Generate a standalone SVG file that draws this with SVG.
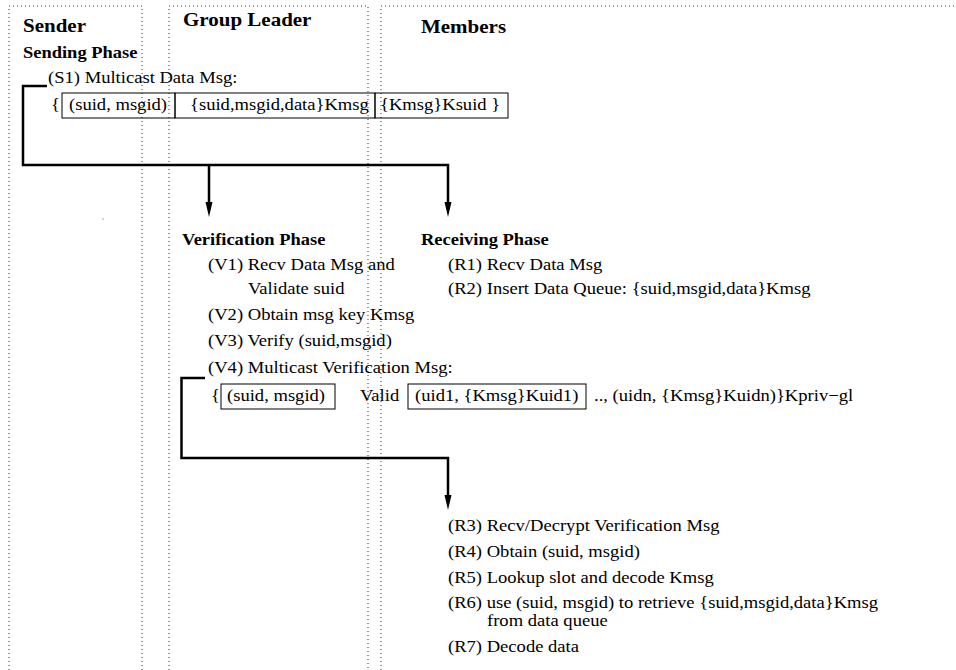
<svg xmlns="http://www.w3.org/2000/svg" width="956" height="670" viewBox="0 0 956 670">
<defs>
<style>
text{font-family:"Liberation Serif","Times New Roman",serif;fill:#000}
.t{font-size:16.6px}
.h{font-size:18.75px;font-weight:bold}
.p{font-size:16.5px;font-weight:bold}
.lane{fill:none;stroke:#333;stroke-width:1;stroke-dasharray:1 3}
.box{fill:none;stroke:#000;stroke-width:1}
.conn{fill:none;stroke:#000;stroke-width:2.5}
</style>
<marker id="arr" markerUnits="userSpaceOnUse" markerWidth="16" markerHeight="8" refX="0" refY="3.5" orient="auto" overflow="visible">
<path d="M0,0 L15,3.5 L0,7 z" fill="#000"/>
</marker>
</defs>
<rect width="956" height="670" fill="#fff"/>
<g id="lanes">
<path class="lane" d="M9,670 V6 H142 V670"/>
<path class="lane" d="M169,670 V6 H368 V670"/>
<path class="lane" d="M381,670 V6 H956"/>
<rect x="102.5" y="218.5" width="1" height="1" fill="#555"/>
</g>
<g id="connectors">
<path class="conn" d="M47,86 H23 V165 H448 V202" marker-end="url(#arr)"/>
<path class="conn" d="M209,165 V202" marker-end="url(#arr)"/>
<path class="conn" d="M205,378 H181.5 V458 H448 V495" marker-end="url(#arr)"/>
</g>
<g id="sender">
<text class="h" transform="translate(23 32) scale(1.12 1)">Sender</text>
<text class="p" transform="translate(23 58) scale(1.12 1)">Sending Phase</text>
<text class="t" transform="translate(48 83) scale(1.12 1)">(S1) Multicast Data Msg:</text>
<text class="t" transform="translate(51 110) scale(1.12 1)">{</text>
<rect class="box" x="62" y="93" width="113" height="25"/>
<rect class="box" x="175" y="93" width="200" height="25"/>
<rect class="box" x="375" y="93" width="133" height="25"/>
<text class="t" transform="translate(69 110) scale(1.12 1)">(suid, msgid)</text>
<text class="t" transform="translate(190 110) scale(1.12 1)">{suid,msgid,data}Kmsg</text>
<text class="t" transform="translate(380 110) scale(1.12 1)">{Kmsg}Ksuid }</text>
</g>
<g id="group-leader">
<text class="h" transform="translate(183 25.5) scale(1.12 1)">Group Leader</text>
<text class="p" transform="translate(182 245) scale(1.12 1)">Verification Phase</text>
<text class="t" transform="translate(208 270) scale(1.12 1)">(V1) Recv Data Msg and</text>
<text class="t" transform="translate(248 294) scale(1.12 1)">Validate suid</text>
<text class="t" transform="translate(208 320) scale(1.12 1)">(V2) Obtain msg key Kmsg</text>
<text class="t" transform="translate(208 346) scale(1.12 1)">(V3) Verify (suid,msgid)</text>
<text class="t" transform="translate(208 373) scale(1.12 1)">(V4) Multicast Verification Msg:</text>
<text class="t" transform="translate(211 401) scale(1.12 1)">{</text>
<rect class="box" x="221" y="384" width="114" height="25"/>
<text class="t" transform="translate(227 401) scale(1.12 1)">(suid, msgid)</text>
<text class="t" transform="translate(360 401) scale(1.12 1)">Valid</text>
<rect class="box" x="408" y="384" width="178" height="25"/>
<text class="t" transform="translate(415 401) scale(1.12 1)">(uid1, {Kmsg}Kuid1)</text>
<text class="t" transform="translate(594 401) scale(1.12 1)">.., (uidn, {Kmsg}Kuidn)}Kpriv−gl</text>
</g>
<g id="members">
<text class="h" transform="translate(421 33) scale(1.12 1)">Members</text>
<text class="p" transform="translate(421 245) scale(1.12 1)">Receiving Phase</text>
<text class="t" transform="translate(448 270) scale(1.12 1)">(R1) Recv Data Msg</text>
<text class="t" transform="translate(448 294) scale(1.12 1)">(R2) Insert Data Queue: {suid,msgid,data}Kmsg</text>
<text class="t" transform="translate(448 531) scale(1.12 1)">(R3) Recv/Decrypt Verification Msg</text>
<text class="t" transform="translate(448 557) scale(1.12 1)">(R4) Obtain (suid, msgid)</text>
<text class="t" transform="translate(448 583) scale(1.12 1)">(R5) Lookup slot and decode Kmsg</text>
<text class="t" transform="translate(448 608) scale(1.12 1)">(R6) use (suid, msgid) to retrieve {suid,msgid,data}Kmsg</text>
<text class="t" transform="translate(487 626) scale(1.12 1)">from data queue</text>
<text class="t" transform="translate(448 652) scale(1.12 1)">(R7) Decode data</text>
</g>
</svg>
